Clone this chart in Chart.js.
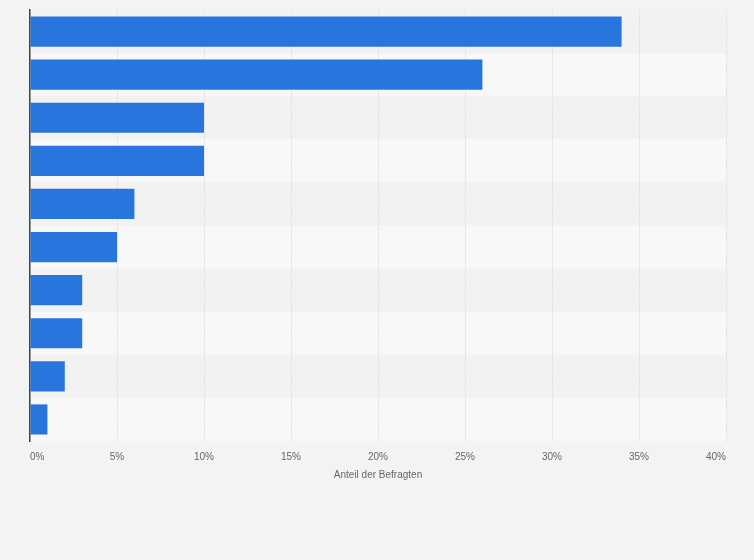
<!DOCTYPE html>
<html>
<head>
<meta charset="utf-8">
<script src="https://cdn.jsdelivr.net/npm/chart.js@4"></script>
<style>
  html, body { margin: 0; padding: 0; background: #f3f3f3; }
  canvas { display: block; }
</style>
</head>
<body>
<canvas id="chart" width="754" height="560"></canvas>
<script>
// categories have no visible labels in the picture
const categories = ["", "", "", "", "", "", "", "", "", ""];
const shares = [34, 26, 10, 10, 6, 5, 3, 3, 2, 1];
const xTicks = [0, 5, 10, 15, 20, 25, 30, 35, 40];
const axisTitle = "Anteil der Befragten";

// alternating row bands behind grid and bars
const bandPlugin = {
  id: "bands",
  beforeDraw(chart) {
    const { ctx, chartArea, scales } = chart;
    const y = scales.y;
    ctx.save();
    categories.forEach((c, i) => {
      const top = i === 0 ? chartArea.top : (y.getPixelForValue(i - 1) + y.getPixelForValue(i)) / 2;
      const bottom = i === categories.length - 1 ? chartArea.bottom : (y.getPixelForValue(i) + y.getPixelForValue(i + 1)) / 2;
      ctx.fillStyle = i % 2 === 0 ? "#f2f2f2" : "#f8f8f8";
      ctx.fillRect(chartArea.left, top, chartArea.right - chartArea.left, bottom - top);
    });
    ctx.restore();
  }
};

Chart.defaults.font.family = "'Liberation Sans', Arial, sans-serif";

new Chart(document.getElementById("chart"), {
  type: "bar",
  data: {
    labels: categories,
    datasets: [{
      data: shares,
      backgroundColor: "#2876dd",
      categoryPercentage: 0.7,
      barPercentage: 1.0
    }]
  },
  options: {
    indexAxis: "y",
    responsive: false,
    animation: false,
    devicePixelRatio: 1,
    layout: { padding: { left: 30, right: 28, top: 10, bottom: 79 } },
    plugins: { legend: { display: false }, tooltip: { enabled: false } },
    scales: {
      x: {
        min: 0,
        max: 40,
        afterBuildTicks(scale) { scale.ticks = xTicks.map(v => ({ value: v })); },
        ticks: {
          callback: v => v + "%",
          color: "#666",
          font: { size: 10 },
          padding: 10,
          align: "inner",
          maxRotation: 0
        },
        grid: { color: "#e0e0e0", drawTicks: false },
        border: { display: false, dash: [2, 1] },
        title: { display: true, text: axisTitle, color: "#666", font: { size: 10 }, padding: { top: -4, bottom: 0 } }
      },
      y: {
        afterFit(scale) { scale.width = 0; },
        ticks: { display: false },
        grid: { display: false },
        border: { display: true, color: "#444", width: 1.5 }
      }
    }
  },
  plugins: [bandPlugin]
});
</script>
</body>
</html>
